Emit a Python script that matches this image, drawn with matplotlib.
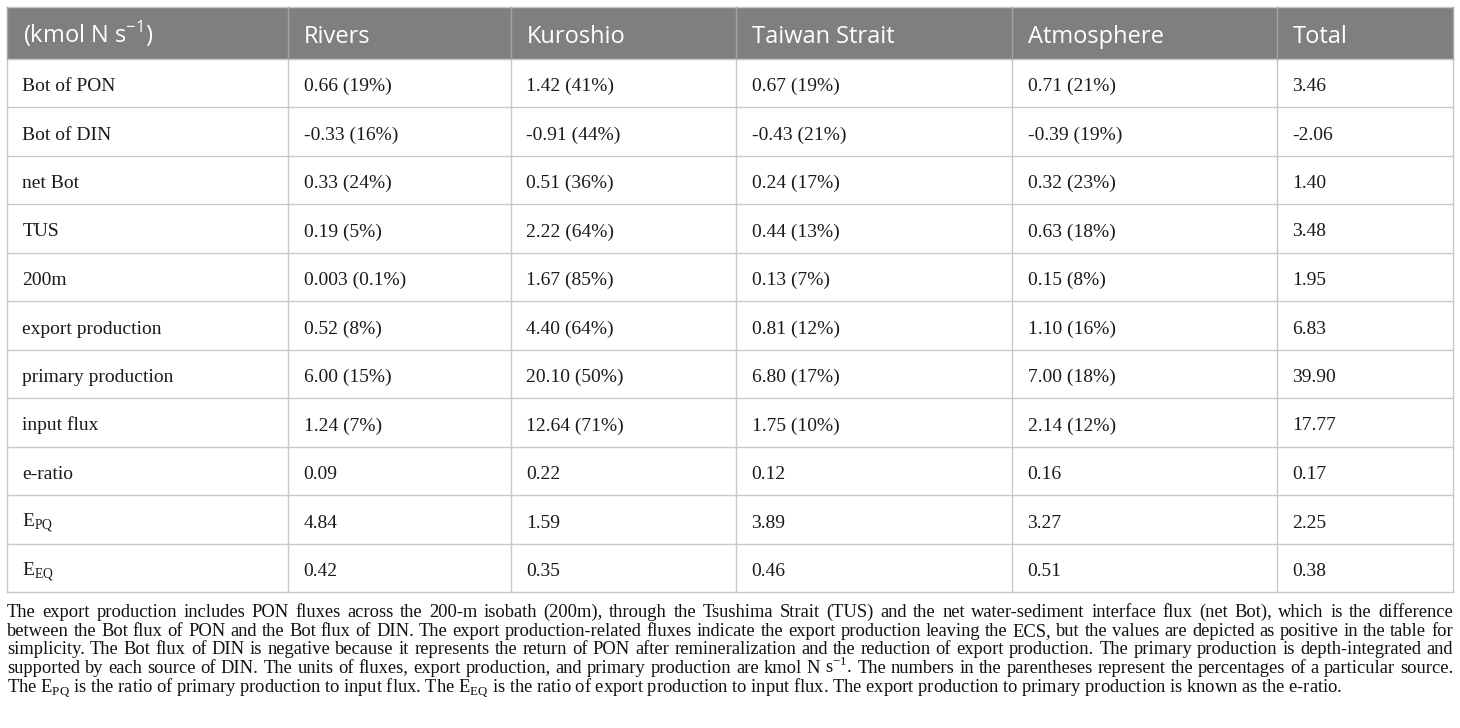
import matplotlib.pyplot as plt
from matplotlib.patches import Rectangle

plt.rcParams['mathtext.fontset'] = 'custom'
plt.rcParams['mathtext.rm'] = 'Liberation Serif'
plt.rcParams['mathtext.sf'] = 'Open Sans'

# table content
columns = ['(kmol N s$^{\\mathsf{-1}}$)', 'Rivers', 'Kuroshio', 'Taiwan Strait', 'Atmosphere', 'Total']
row_labels = ['Bot of PON', 'Bot of DIN', 'net Bot', 'TUS', '200m', 'export production',
              'primary production', 'input flux', 'e-ratio',
              'E$_{\\mathrm{PQ}}$', 'E$_{\\mathrm{EQ}}$']

rivers = ['0.66', '-0.33', '0.33', '0.19', '0.003', '0.52', '6.00', '1.24', '0.09', '4.84', '0.42']
rivers_pct = ['19', '16', '24', '5', '0.1', '8', '15', '7']
kuroshio = ['1.42', '-0.91', '0.51', '2.22', '1.67', '4.40', '20.10', '12.64', '0.22', '1.59', '0.35']
kuroshio_pct = ['41', '44', '36', '64', '85', '64', '50', '71']
taiwan = ['0.67', '-0.43', '0.24', '0.44', '0.13', '0.81', '6.80', '1.75', '0.12', '3.89', '0.46']
taiwan_pct = ['19', '21', '17', '13', '7', '12', '17', '10']
atmosphere = ['0.71', '-0.39', '0.32', '0.63', '0.15', '1.10', '7.00', '2.14', '0.16', '3.27', '0.51']
atmosphere_pct = ['21', '19', '23', '18', '8', '16', '18', '12']
total = ['3.46', '-2.06', '1.40', '3.48', '1.95', '6.83', '39.90', '17.77', '0.17', '2.25', '0.38']

caption = [
    'The export production includes PON fluxes across the 200-m isobath (200m), through the Tsushima Strait (TUS) and the net water-sediment interface flux (net Bot), which is the difference',
    'between the Bot flux of PON and the Bot flux of DIN. The export production-related fluxes indicate the export production leaving the ECS, but the values are depicted as positive in the table for',
    'simplicity. The Bot flux of DIN is negative because it represents the return of PON after remineralization and the reduction of export production. The primary production is depth-integrated and',
    'supported by each source of DIN. The units of fluxes, export production, and primary production are kmol N s$^{\\mathrm{-1}}$. The numbers in the parentheses represent the percentages of a particular source.',
    'The E$_{\\mathrm{PQ}}$ is the ratio of primary production to input flux. The E$_{\\mathrm{EQ}}$ is the ratio of export production to input flux. The export production to primary production is known as the e-ratio.',
]


def cells(vals, pcts):
    out = []
    for i, v in enumerate(vals):
        if i < len(pcts):
            out.append(f'{v} ({pcts[i]}%)')
        else:
            out.append(v)
    return out


table = [row_labels,
         cells(rivers, rivers_pct),
         cells(kuroshio, kuroshio_pct),
         cells(taiwan, taiwan_pct),
         cells(atmosphere, atmosphere_pct),
         total]

# layout (pixels)
col_edges = [7, 288, 511, 736, 1012, 1277, 1453]
top = 7
head_bot = 58.5
row_h = 48.5
n_rows = len(row_labels)
bottom = head_bot + n_rows * row_h

fig = plt.figure(figsize=(14.6, 7.28), dpi=100)
ax = fig.add_axes([0, 0, 1, 1])
ax.set_xlim(0, 1460)
ax.set_ylim(728, 0)
ax.axis('off')

grid = '#c9c9c9'
ax.add_patch(Rectangle((col_edges[0], top), col_edges[-1] - col_edges[0], head_bot - top,
                       facecolor='#7f7f7f', edgecolor='none'))
ax.plot([col_edges[0], col_edges[-1]], [top, top], color=grid, lw=1)
for i in range(n_rows + 1):
    y = head_bot + i * row_h
    ax.plot([col_edges[0], col_edges[-1]], [y, y], color=grid, lw=1)
for x in col_edges:
    ax.plot([x, x], [head_bot, bottom], color=grid, lw=1)
    ax.plot([x, x], [top, head_bot], color='#a5a5a5', lw=1)

for j, name in enumerate(columns):
    ax.text(col_edges[j] + 16, 43.3, name, color='white', fontsize=17,
            family='Open Sans', va='baseline')

for j, col in enumerate(table):
    for i, s in enumerate(col):
        ax.text(col_edges[j] + 15.5, head_bot + i * row_h + 32.5, s, color='#1a1a1a',
                fontsize=14, family='Liberation Serif', va='baseline')

# caption, justified like the source page
renderer = fig.canvas.get_renderer()


def width(s, size):
    t = ax.text(0, 0, s, fontsize=size, family='Liberation Serif')
    w = t.get_window_extent(renderer).width
    t.remove()
    return w


cap_size = 10 * 1335 / width(caption[-1], 10)
left, right = col_edges[0], col_edges[-1]
for k, line in enumerate(caption):
    y = 617 + k * 18.75
    if k == len(caption) - 1:
        ax.text(left, y, line, fontsize=cap_size, family='Liberation Serif',
                color='#111111', va='baseline')
        continue
    words = line.split(' ')
    ws = [width(w, cap_size) for w in words]
    gap = (right - left - sum(ws)) / (len(words) - 1)
    x = left
    for w, wd in zip(words, ws):
        ax.text(x, y, w, fontsize=cap_size, family='Liberation Serif',
                color='#111111', va='baseline')
        x += wd + gap

fig.savefig('out.png', dpi=100)
